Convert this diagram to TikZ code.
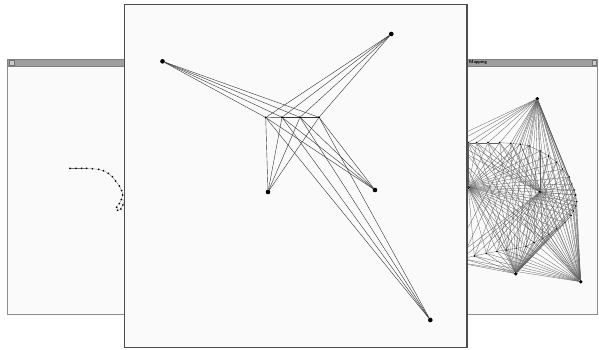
\documentclass[tikz,border=0pt]{standalone}
\begin{document}
\begin{tikzpicture}[x=1pt,y=-1pt,
  winframe/.style={draw=black!45, line width=1pt, fill=black!2},
  titlebar/.style={fill=black!38, draw=black!50, line width=0.4pt},
  mainframe/.style={draw=black!70, line width=1.4pt, fill=black!2},
  bigdot/.style={circle, fill=black, inner sep=0pt, minimum size=4.6pt},
  smalldot/.style={circle, fill=black, inner sep=0pt, minimum size=2.4pt},
  tinydot/.style={circle, fill=black, inner sep=0pt, minimum size=2pt},
  rbig/.style={circle, fill=black, inner sep=0pt, minimum size=3.8pt},
  edge/.style={draw=black!80, line width=0.4pt},
  redge/.style={draw=black!62, line width=0.3pt},
  ledge/.style={draw=black!55, line width=0.3pt},
  wtitle/.style={font=\fontsize{4.5}{5}\selectfont\sffamily\bfseries, inner sep=0pt, anchor=west},
  ]
\useasboundingbox (0,0) rectangle (599,349);
\fill[white] (0,0) rectangle (599,349);

% ---------- left window ----------
\draw[winframe] (7,59.5) rectangle (300,314.5);
\draw[titlebar] (7.5,59.5) rectangle (300,66);
\draw[draw=black!55, fill=black!20, line width=0.3pt] (9,60.5) rectangle (14,65);
\begin{scope}
  \clip (8,66.5) rectangle (299,314);
  \foreach \x/\y [count=\i] in {70/168.3,76/168.3,81.7/168.3,86.7/168.3,92.3/168.7,98.7/169.3,103.3/170.7,108.3/173.3,112.3/176.7,115.7/181,119.3/186,121.7/190.5,122.6/195,121.4/199.5,119.4/203.5,116.6/207.2,117.6/210.2,120.8/209,122.8/205,124.5/200}
    {\node[tinydot] (l\i) at (\x,\y) {};}
  \foreach \i [evaluate=\i as \j using int(\i+1)] in {1,...,19}
    {\draw[ledge] (l\i) -- (l\j);}
\end{scope}

% ---------- right window ----------
\draw[winframe] (330,59.5) rectangle (597,314);
\draw[titlebar] (330,59.5) rectangle (596.5,66);
\draw[draw=black!55, fill=black!20, line width=0.3pt] (592,60.5) rectangle (596,65);
\node[wtitle] (maptitle) at (469,62.8) {Mapping};
\begin{scope}
  \clip (331,66.5) rectangle (596.5,313.5);
  \node[rbig] (T) at (537.3,98.7) {};
  \node[rbig] (M) at (540,192) {};
  \node[rbig] (R) at (580.7,281.7) {};
  \node[rbig] (Bt) at (515.7,273.7) {};
  \node[rbig] (L) at (468.3,187.3) {};
  \foreach \x/\y [count=\i] in {444/142.7,456/142.7,468.3/142.7,476.7/142.7,488/142.7,499.7/142.7,510.7/143.3,520.3/144.3,529/146,540/151,548.7/156,556.3/162.3,562.3/169,569/177,571.5/184,574/190,575.7/195,576.7/201.7,575.7/206,573.3/211,571/215.7,565/222.7,556.7/229,548.7/234.3,542.7/238.3,534/242.7,526/246.3,516.3/248.3,506/250,497/251.3,486.3/253.3,474.3/256,462/258.5,450/261}
    {\node[tinydot] (s\i) at (\x,\y) {};}
  \foreach \i in {1,...,34}
    {\foreach \b in {T,M,R,Bt,L} {\draw[redge] (s\i) -- (\b);}}
  \foreach \i [evaluate=\i as \j using int(\i+1)] in {1,...,33}
    {\draw[redge] (s\i) -- (s\j);}
\end{scope}

% ---------- main window ----------
\draw[mainframe] (124.5,4.5) rectangle (467,347.3);
\node[bigdot] (a) at (162.5,61.3) {};
\node[bigdot] (b) at (391.3,34) {};
\node[bigdot] (c) at (268,192) {};
\node[bigdot] (d) at (375,190) {};
\node[bigdot] (e) at (430.3,320) {};
\node[smalldot] (p1) at (265.7,117.5) {};
\node[smalldot] (p2) at (282,117.3) {};
\node[smalldot] (p3) at (300,117.3) {};
\node[smalldot] (p4) at (319,117.3) {};
\draw[edge] (p1) -- (p2);
\draw[edge] (p2) -- (p3);
\draw[edge] (p3) -- (p4);
\foreach \p in {p1,p2,p3,p4}
  {\foreach \q in {a,b,c,d,e} {\draw[edge] (\p) -- (\q);}}
\end{tikzpicture}
\end{document}
